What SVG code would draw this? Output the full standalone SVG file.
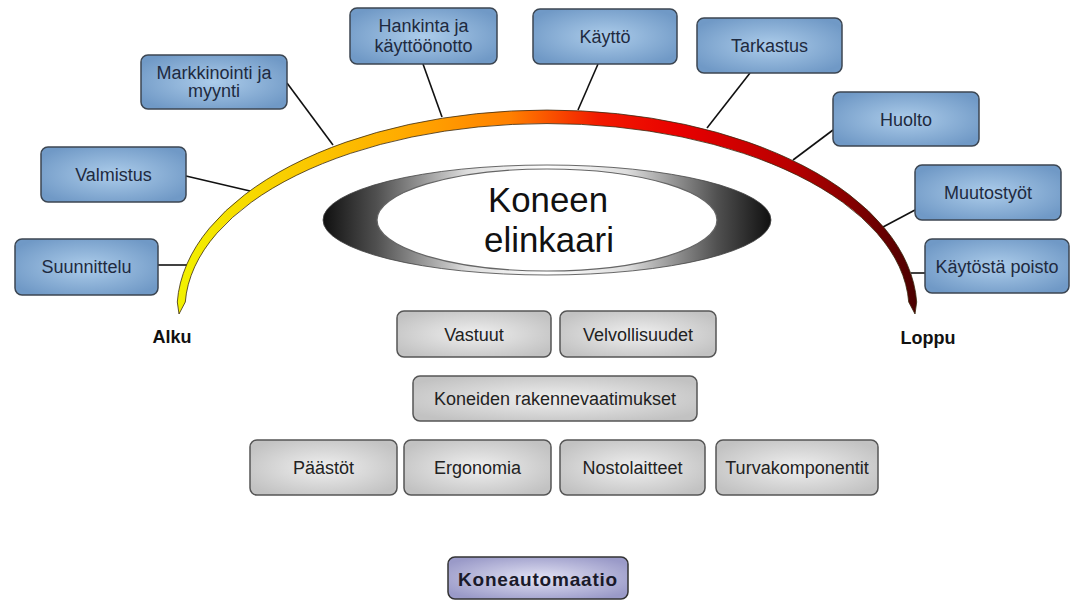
<svg xmlns="http://www.w3.org/2000/svg" width="1071" height="601" viewBox="0 0 1071 601">
  <defs>
    <!-- life-cycle band: yellow at the start, dark red at the end -->
    <linearGradient id="bandGrad" gradientUnits="userSpaceOnUse" x1="177" y1="0" x2="917" y2="0">
      <stop offset="0" stop-color="#f2f200"/>
      <stop offset="0.12" stop-color="#f8d400"/>
      <stop offset="0.3" stop-color="#ffac00"/>
      <stop offset="0.45" stop-color="#ff8000"/>
      <stop offset="0.57" stop-color="#f21a00"/>
      <stop offset="0.68" stop-color="#e80000"/>
      <stop offset="0.83" stop-color="#b80000"/>
      <stop offset="1" stop-color="#4a0000"/>
    </linearGradient>
    <linearGradient id="ringGrad" x1="0" y1="0" x2="1" y2="0">
      <stop offset="0" stop-color="#101010"/>
      <stop offset="0.12" stop-color="#505050"/>
      <stop offset="0.32" stop-color="#dcdcdc"/>
      <stop offset="0.5" stop-color="#ffffff"/>
      <stop offset="0.68" stop-color="#dcdcdc"/>
      <stop offset="0.88" stop-color="#505050"/>
      <stop offset="1" stop-color="#101010"/>
    </linearGradient>
    <radialGradient id="blueGrad" cx="0.5" cy="0.5" r="0.6">
      <stop offset="0" stop-color="#acccea"/>
      <stop offset="1" stop-color="#7099c6"/>
    </radialGradient>
    <radialGradient id="grayGrad" cx="0.5" cy="0.5" r="0.6">
      <stop offset="0" stop-color="#efefef"/>
      <stop offset="1" stop-color="#c2c2c2"/>
    </radialGradient>
    <radialGradient id="lilacGrad" cx="0.5" cy="0.5" r="0.6">
      <stop offset="0" stop-color="#e2e2f4"/>
      <stop offset="1" stop-color="#9a9ac8"/>
    </radialGradient>
  </defs>
  <style>
    .blue rect { fill: url(#blueGrad); stroke: #3c4652; stroke-width: 1.5; }
    .gray rect { fill: url(#grayGrad); stroke: #555555; stroke-width: 1.5; }
    .lilac rect { fill: url(#lilacGrad); stroke: #333333; stroke-width: 1.5; }
    text { font-family: "Liberation Sans", Arial, sans-serif; font-size: 18px; text-anchor: middle; }
    .blue text { fill: #1e2a40; }
    .gray text { fill: #222222; }
    .lilac text { fill: #1a1a2a; font-weight: bold; font-size: 19px; letter-spacing: 0.8px; }
    .end { font-weight: bold; fill: #111111; }
    .title { font-size: 35px; fill: #111111; }
    #connectors line { stroke: #111111; stroke-width: 1.6; }
  </style>

  <rect width="1071" height="601" fill="#ffffff"/>

  <!-- leader lines from each phase to the band -->
  <g id="connectors">
    <line x1="158" y1="265" x2="187" y2="265"/>
    <line x1="186" y1="176" x2="250" y2="191"/>
    <line x1="287" y1="83" x2="333" y2="145"/>
    <line x1="423" y1="64" x2="442" y2="117"/>
    <line x1="598" y1="64" x2="578" y2="110"/>
    <line x1="750" y1="73" x2="707" y2="128"/>
    <line x1="833" y1="130" x2="793" y2="160"/>
    <line x1="915" y1="210" x2="883" y2="227"/>
    <line x1="925" y1="273" x2="911" y2="273"/>
  </g>

  <!-- crescent band with pointed ends -->
  <g id="band">
    <path d="M 177.3 302 A 370 200 0 0 1 916.7 302 L 915 314 L 908.7 302 A 362 186 0 0 0 185.3 302 L 179 314 Z"
          fill="url(#bandGrad)" stroke="#3a2a10" stroke-width="0.8"/>
  </g>

  <!-- centre emblem -->
  <g id="center">
    <ellipse cx="547" cy="220" rx="224" ry="55" fill="url(#ringGrad)" stroke="#444444" stroke-width="0.8"/>
    <ellipse cx="547" cy="220" rx="170" ry="51" fill="#ffffff" stroke="#666666" stroke-width="1.2"/>
    <text class="title" x="548" y="212" textLength="120" lengthAdjust="spacingAndGlyphs">Koneen</text>
    <text class="title" x="549" y="252" textLength="130" lengthAdjust="spacingAndGlyphs">elinkaari</text>
  </g>

  <text id="alku" class="end" x="172" y="343">Alku</text>
  <text id="loppu" class="end" x="928" y="344">Loppu</text>

  <!-- life-cycle phases -->
  <g id="suunnittelu" class="blue">
    <rect x="15" y="239" width="143" height="56" rx="7"/>
    <text x="86.5" y="273">Suunnittelu</text>
  </g>
  <g id="valmistus" class="blue">
    <rect x="41" y="147" width="145" height="55" rx="7"/>
    <text x="113.5" y="181">Valmistus</text>
  </g>
  <g id="markkinointi" class="blue">
    <rect x="141" y="55" width="146" height="54" rx="7"/>
    <text x="214" y="79">Markkinointi ja</text>
    <text x="214" y="97">myynti</text>
  </g>
  <g id="hankinta" class="blue">
    <rect x="350" y="8" width="147" height="56" rx="7"/>
    <text x="423.5" y="32">Hankinta ja</text>
    <text x="423.5" y="52">käyttöönotto</text>
  </g>
  <g id="kaytto" class="blue">
    <rect x="533" y="9" width="144" height="55" rx="7"/>
    <text x="605" y="42.5">Käyttö</text>
  </g>
  <g id="tarkastus" class="blue">
    <rect x="697" y="18" width="145" height="55" rx="7"/>
    <text x="769.5" y="52">Tarkastus</text>
  </g>
  <g id="huolto" class="blue">
    <rect x="833" y="92" width="146" height="54" rx="7"/>
    <text x="906" y="125.5">Huolto</text>
  </g>
  <g id="muutostyot" class="blue">
    <rect x="915" y="165" width="146" height="55" rx="7"/>
    <text x="988" y="199">Muutostyöt</text>
  </g>
  <g id="kaytosta-poisto" class="blue">
    <rect x="925" y="239" width="144" height="54" rx="7"/>
    <text x="997" y="272.5">Käytöstä poisto</text>
  </g>

  <!-- obligations and requirements -->
  <g id="vastuut" class="gray">
    <rect x="397" y="311" width="154" height="46" rx="7"/>
    <text x="474" y="340.5">Vastuut</text>
  </g>
  <g id="velvollisuudet" class="gray">
    <rect x="560" y="311" width="156" height="46" rx="7"/>
    <text x="638" y="340.5">Velvollisuudet</text>
  </g>
  <g id="rakennevaatimukset" class="gray">
    <rect x="413" y="376" width="284" height="45" rx="7"/>
    <text x="555" y="405">Koneiden rakennevaatimukset</text>
  </g>
  <g id="paastot" class="gray">
    <rect x="250" y="440" width="147" height="55" rx="7"/>
    <text x="323.5" y="474">Päästöt</text>
  </g>
  <g id="ergonomia" class="gray">
    <rect x="404" y="440" width="147" height="55" rx="7"/>
    <text x="477.5" y="474">Ergonomia</text>
  </g>
  <g id="nostolaitteet" class="gray">
    <rect x="560" y="440" width="145" height="55" rx="7"/>
    <text x="632.5" y="474">Nostolaitteet</text>
  </g>
  <g id="turvakomponentit" class="gray">
    <rect x="716" y="440" width="162" height="55" rx="7"/>
    <text x="797" y="474">Turvakomponentit</text>
  </g>

  <g id="koneautomaatio" class="lilac">
    <rect x="448" y="557" width="180" height="42" rx="7"/>
    <text x="538" y="586">Koneautomaatio</text>
  </g>
</svg>
